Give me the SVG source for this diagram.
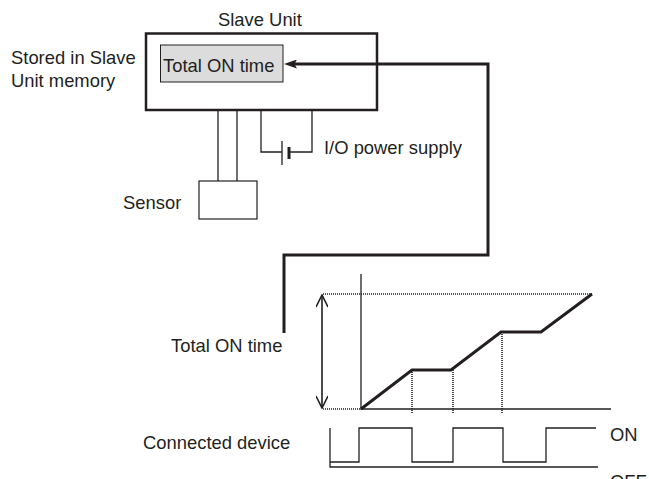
<svg xmlns="http://www.w3.org/2000/svg" width="649" height="479" viewBox="0 0 649 479">
<style>
text{font-family:"Liberation Sans",Arial,sans-serif;font-size:18.4px;fill:#231f20}
.thin{fill:none;stroke:#231f20;stroke-width:1.3}
.thick{fill:none;stroke:#231f20;stroke-width:3}
.dot{fill:none;stroke:#231f20;stroke-width:1.6;stroke-dasharray:1 1}
</style>
<defs>
<marker id="fa" viewBox="0 0 13 9" refX="6" refY="4.5" markerWidth="13" markerHeight="9" markerUnits="userSpaceOnUse" orient="auto">
<path d="M13,4.5 L0,0 L2.5,4.5 L0,9 Z" fill="#231f20"/>
</marker>
<marker id="oa" viewBox="0 0 14 12" refX="13" refY="6" markerWidth="14" markerHeight="12" markerUnits="userSpaceOnUse" orient="auto-start-reverse">
<path d="M1,0 L13,6 L1,12" fill="none" stroke="#231f20" stroke-width="1.6"/>
</marker>
</defs>
<rect width="649" height="479" fill="#fff"/>
<text x="11" y="64">Stored in Slave</text>
<text x="11" y="87">Unit memory</text>
<g id="slave-unit">
<rect x="146" y="33.5" width="231" height="76.5" fill="#fff" stroke="#231f20" stroke-width="2.5"/>
<text x="218" y="26">Slave Unit</text>
</g>
<g id="total-on-time-memory">
<rect x="160.5" y="45" width="122.5" height="37" fill="#dcdcdc" stroke="#231f20" stroke-width="1"/>
<text x="163" y="72">Total ON time</text>
</g>
<g id="sensor">
<rect x="199" y="181" width="58" height="38" fill="#fff" stroke="#231f20" stroke-width="1.2"/>
<text x="123" y="209">Sensor</text>
</g>
<g id="power-supply">
<path class="thin" d="M261,110 V152 H282 M289,152 H312 V110"/>
<line x1="282" y1="141" x2="282" y2="165" stroke="#231f20" stroke-width="1.3"/>
<line x1="289" y1="147" x2="289" y2="159" stroke="#231f20" stroke-width="3"/>
<text x="324" y="154">I/O power supply</text>
</g>
<g id="connectors">
<path class="thin" d="M218,110 V181 M237,110 V181"/>
<path class="thick" d="M284,333 V255 H488 V64 H291" marker-end="url(#fa)"/>
</g>
<g id="graph">
<text x="171" y="352">Total ON time</text>
<path class="thin" d="M361,274 V409 H611"/>
<path class="dot" d="M323,294 H592 M323,409 H361 M412,370 V413 M453,370 V413 M502,332 V414"/>
<line x1="322" y1="295" x2="322" y2="408" stroke="#231f20" stroke-width="1.6" marker-start="url(#oa)" marker-end="url(#oa)"/>
<path class="thick" d="M361,409 L412,370 H451 L501,332 H541 L592,294" stroke-linejoin="miter"/>
</g>
<g id="connected-device">
<text x="143" y="449">Connected device</text>
<path class="thin" d="M330,428 V467 H598"/>
<path class="thin" d="M330,462 H359 V428 H412 V462 H453 V428 H503 V462 H546 V428 H596"/>
<text x="610" y="441">ON</text>
<text x="610" y="488">OFF</text>
</g>
</svg>
